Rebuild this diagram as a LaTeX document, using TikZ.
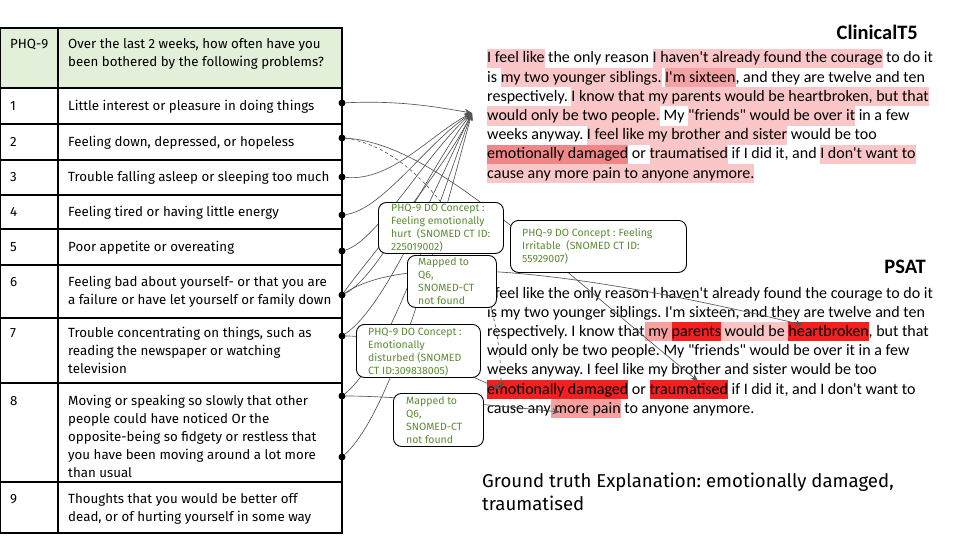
\documentclass[tikz,border=0pt]{standalone}
\usepackage{fontspec}
\setmainfont{Fira Sans}
\newfontfamily\calibri{Carlito}
\usetikzlibrary{arrows.meta}
\definecolor{hdrgreen}{HTML}{E2EFD9}
\definecolor{conceptgreen}{HTML}{5B8C32}
\definecolor{linkgray}{HTML}{555555}
\definecolor{hlLight}{HTML}{FAC6C7}
\definecolor{hlMid}{HTML}{F4A2A4}
\definecolor{hlDark}{HTML}{F08688}
\definecolor{psLight}{HTML}{FBC4C4}
\definecolor{psMid}{HTML}{F7A0A0}
\definecolor{psRed}{HTML}{F22020}
\newcommand{\hlt}[2]{{\setlength{\fboxsep}{0pt}\colorbox{#1}{\rule[-5pt]{0pt}{19.2pt}#2}}}
\newcommand{\ap}{\textquotesingle}
\newcommand{\up}{\rule{0pt}{1em}}
\frenchspacing

\begin{document}
\begin{tikzpicture}[
    x=1pt,
    y=-1pt,
    grid/.style={draw=black, line width=1.1pt},
    celltext/.style={anchor=north west, inner sep=0pt, align=left,
      font=\fontsize{13.3}{18}\selectfont},
    para/.style={anchor=base west, inner sep=0pt, font=\calibri\fontsize{16}{19.2}\selectfont},
    title/.style={anchor=east, inner sep=0pt, font=\calibri\bfseries\fontsize{20.5}{24}\selectfont},
    rowdot/.style={circle, fill=black, inner sep=0pt, minimum size=7pt},
    link/.style={draw=linkgray, line width=0.65pt, -{Stealth[length=7.5pt,width=6pt]}},
    conceptbox/.style={draw=black, line width=0.9pt, rounded corners=8pt, fill=white,
      anchor=north west, inner sep=0pt},
    concepttext/.style={anchor=north west, inner sep=0pt, align=left, text=conceptgreen,
      font=\fontsize{10.5}{13}\selectfont}
  ]
    % Canvas in pixel units, y grows downwards.
    \useasboundingbox[fill=white] (0,0) rectangle (960,540);

    % PHQ-9 table.
    \fill[hdrgreen] (0.5,28) rectangle (342,88);
    \draw[grid] (0.5,28) rectangle (342,533);
    \draw[grid] (58,28) -- (58,533);
    \foreach \yy in {88,124,160,195,229,265,318,383,482} {
      \draw[grid] (0.5,\yy) -- (342,\yy);
    }
    \node[celltext] (numHdr) at (10,35.2) {\up PHQ-9};
    \node[celltext] (txtHdr) at (68,35.2) {\up Over the last 2 weeks, how often have you\\been bothered by the following problems?};
    \foreach \n/\yy in {1/97.2,2/132.7,3/168.2,4/203.2,5/238.2,6/273.2,7/324.2,8/392.2,9/490.2} {
      \node[celltext] (num\n) at (10,\yy) {\up\n};
    }
    \node[celltext] (txt1) at (68,97.2) {\up Little interest or pleasure in doing things};
    \node[celltext] (txt2) at (68,132.7) {\up Feeling down, depressed, or hopeless};
    \node[celltext] (txt3) at (68,168.2) {\up Trouble falling asleep or sleeping too much};
    \node[celltext] (txt4) at (68,203.2) {\up Feeling tired or having little energy};
    \node[celltext] (txt5) at (68,238.2) {\up Poor appetite or overeating};
    \node[celltext] (txt6) at (68,273.2) {\up Feeling bad about yourself- or that you are\\a failure or have let yourself or family down};
    \node[celltext] (txt7) at (68,324.2) {\up Trouble concentrating on things, such as\\reading the newspaper or watching\\television};
    \node[celltext] (txt8) at (68,392.2) {\up Moving or speaking so slowly that other\\people could have noticed Or the\\opposite-being so fidgety or restless that\\you have been moving around a lot more\\than usual};
    \node[celltext] (txt9) at (68,490.2) {\up Thoughts that you would be better off\\dead, or of hurting yourself in some way};

    % ClinicalT5 explanation.
    \node[title] (clinTitle) at (918,32) {ClinicalT5};
    \node[para] (clin1) at (487,63) {\hlt{hlLight}{I feel like} the only reason \hlt{hlLight}{I haven\ap t already found the courage} to do it};
    \node[para] (clin2) at (487,82.2) {is \hlt{hlLight}{my two younger siblings.} \hlt{hlMid}{I\ap m sixteen}, and they are twelve and ten};
    \node[para] (clin3) at (487,101.4) {respectively. \hlt{hlLight}{I know that my parents would be heartbroken, but that}};
    \node[para] (clin4) at (487,120.6) {\hlt{hlLight}{would only be two people.} My \hlt{hlLight}{"friends" would be over it} in a few};
    \node[para] (clin5) at (487,139.8) {weeks anyway. \hlt{hlLight}{I feel like my brother and sister} would be too};
    \node[para] (clin6) at (487,159) {\hlt{hlDark}{emotionally damaged} or \hlt{hlLight}{traumatised} if I did it, and \hlt{hlLight}{I don\ap t want to}};
    \node[para] (clin7) at (487,178.2) {\hlt{hlLight}{cause any more pain to anyone anymore.}};

    % PSAT explanation.
    \node[title] (psatTitle) at (926,267) {PSAT};
    \node[para] (psat1) at (487,298) {I feel like the only reason I haven\ap t already found the courage to do it};
    \node[para] (psat2) at (487,317.2) {is my two younger siblings. I\ap m sixteen, and they are twelve and ten};
    \node[para] (psat3) at (487,336.4) {respectively. I know that\hlt{psMid}{\ my\ }\hlt{psRed}{parents}\hlt{psLight}{\ would be\ }\hlt{psRed}{heartbroken}, but that};
    \node[para] (psat4) at (487,355.6) {would only be two people. My "friends" would be over it in a few};
    \node[para] (psat5) at (487,374.8) {weeks anyway. I feel like my brother and sister would be too};
    \node[para] (psat6) at (487,394) {\hlt{psRed}{emotionally damaged} or \hlt{psRed}{traumatised} if I did it, and I don\ap t want to};
    \node[para] (psat7) at (487,413.2) {cause any\hlt{psMid}{\ more pain} to anyone anymore.};

    \node[celltext, font=\fontsize{18.6}{23}\selectfont] (truth) at (482,468.4)
      {\up Ground truth Explanation: emotionally damaged,\\traumatised};

    % Dots on the table edge and arrow targets.
    \foreach \n/\yy in {1/103,2/138,3/177,4/215,5/251,6/295,7/336,8a/396,8b/457} {
      \node[rowdot] (r\n) at (342,\yy) {};
    }
    \coordinate (clinTip) at (472,113);
    \coordinate (psHeart) at (803,325);
    \coordinate (psTrauma) at (698,381);
    \coordinate (psEmo) at (501,389);
    \coordinate (psPain) at (560,412);

    % Links to the ClinicalT5 text.
    \draw[link] (r1) .. controls +(60,-3) and +(-30,-5) .. (clinTip);
    \draw[link] (r3) .. controls +(50,5) and +(-40,20) .. (clinTip);
    \draw[link] (r4) .. controls +(40,-5) and +(-45,30) .. (clinTip);
    \draw[link] (r5) .. controls +(35,-10) and +(-45,40) .. (clinTip);
    \draw[link] (r6) .. controls +(40,-20) and +(-40,50) .. (clinTip);
    \draw[link] (r6) .. controls +(25,-35) and +(-30,60) .. (clinTip);
    \draw[link] (r7) .. controls +(45,-30) and +(-35,70) .. (clinTip);
    \draw[link] (r8a) .. controls +(50,-40) and +(-30,80) .. (clinTip);
    \draw[link] (r8b) .. controls +(55,-50) and +(-25,90) .. (clinTip);

    % Links to the PSAT text.
    \draw[link] (r2) .. controls +(90,5) and +(-160,-130) .. (psTrauma);
    \draw[link, dashed] (r2) .. controls +(80,10) and +(0,-130) .. (psEmo);
    \draw[link] (r6) .. controls +(60,-40) and +(-250,-60) .. (psHeart);
    \draw[link] (r7) .. controls +(60,0) and +(-50,-20) .. (psEmo);
    \draw[link] (r8a) .. controls +(60,0) and +(-50,-5) .. (psPain);

    % Concept call-outs.
    \node[conceptbox, minimum width=125pt, minimum height=51pt] (hurtBox) at (378,202) {};
    \node[concepttext] (hurtText) at (391,201)
      {\up PHQ-9 DO Concept :\\Feeling emotionally\\hurt\ \ (SNOMED CT ID:\\225019002)};
    \node[conceptbox, minimum width=89pt, minimum height=52pt] (mapBoxA) at (407,255) {};
    \node[concepttext] (mapTextA) at (418,255)
      {\up Mapped to\\Q6,\\SNOMED-CT\\not found};
    \node[conceptbox, minimum width=176pt, minimum height=52pt] (irritBox) at (510,220) {};
    \node[concepttext] (irritText) at (522,226)
      {\up PHQ-9 DO Concept : Feeling\\Irritable\ \ (SNOMED CT ID:\\55929007)};
    \node[conceptbox, minimum width=124pt, minimum height=53pt] (disturbBox) at (356,324) {};
    \node[concepttext] (disturbText) at (368,325)
      {\up PHQ-9 DO Concept :\\Emotionally\\disturbed (SNOMED\\CT ID:309838005)};
    \node[conceptbox, minimum width=90pt, minimum height=53pt] (mapBoxB) at (393,393) {};
    \node[concepttext] (mapTextB) at (406,394)
      {\up Mapped to\\Q6,\\SNOMED-CT\\not found};
  \end{tikzpicture}
\end{document}
